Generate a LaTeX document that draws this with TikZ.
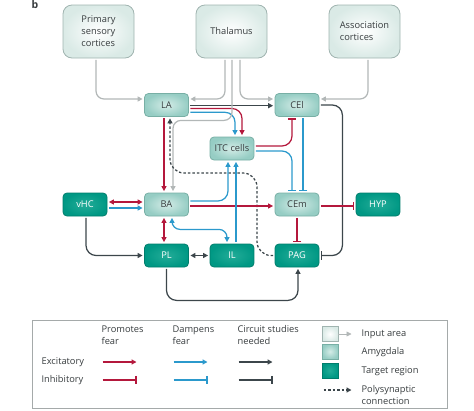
\documentclass[tikz,border=0pt]{standalone}
\usepackage{fontspec}
\setmainfont{Open Sans}
\usepackage{tikz}
\usetikzlibrary{arrows.meta}
\definecolor{fearred}{RGB}{180,24,60}
\definecolor{dampblue}{RGB}{43,153,204}
\definecolor{needgrey}{RGB}{60,70,75}
\definecolor{inputline}{RGB}{178,183,183}
\definecolor{inputfill}{RGB}{218,234,230}
\definecolor{inputdraw}{RGB}{160,180,176}
\definecolor{amyfill}{RGB}{150,205,196}
\definecolor{amylight}{RGB}{212,236,231}
\definecolor{amydraw}{RGB}{120,175,165}
\definecolor{targetfill}{RGB}{0,152,132}
\definecolor{targetlight}{RGB}{35,172,152}
\definecolor{targetdraw}{RGB}{0,125,108}
\definecolor{labeltext}{RGB}{55,60,62}
\definecolor{legendframe}{RGB}{165,170,170}
\tikzstyle{input}=[rectangle,rounded corners=9pt,draw=inputdraw,inner color=white,outer color=inputfill,minimum width=71pt,minimum height=53pt,align=left,line width=0.8pt]
\tikzstyle{amyg}=[rectangle,rounded corners=4pt,draw=amydraw,inner color=amylight,outer color=amyfill,minimum width=44pt,minimum height=23pt,line width=0.8pt]
\tikzstyle{target}=[rectangle,rounded corners=4pt,draw=targetdraw,inner color=targetlight,outer color=targetfill,minimum width=44pt,minimum height=23pt,text=white,line width=0.8pt]
\tikzstyle{keybox}=[rounded corners=0pt,minimum width=16pt,minimum height=15pt,inner sep=0pt]
\tikzstyle{link}=[shorten >=1.5pt,shorten <=1.5pt]
\tikzstyle{promote}=[link,draw=fearred]
\tikzstyle{dampen}=[link,draw=dampblue]
\tikzstyle{needed}=[link,draw=needgrey]
\tikzstyle{feed}=[link,draw=inputline,->]
\tikzstyle{poly}=[link,draw=needgrey,dash pattern=on 2.5pt off 2pt,->]
\tikzstyle{inhib}=[-{Bar[width=8.5pt]}]

\begin{document}
\begin{tikzpicture}[x=1pt,y=-1pt,line width=1.25pt,text=labeltext,
    >={Triangle[length=5pt,width=5pt]},
    font=\fontsize{9.3}{12}\selectfont]
      \useasboundingbox (0,0) rectangle (474,410);
      \node[font=\bfseries\fontsize{10.5}{12}\selectfont,inner sep=0pt] at (35,5) (panel) {b};
      \node[input] at (98.5,31.5) (prim) {Primary\\sensory\\cortices};
      \node[input] at (231.5,31.5) (thal) {Thalamus};
      \node[input] at (364.5,31.5) (assoc) {Association\\cortices};
      \node[amyg] at (166.5,105) (LA) {LA};
      \node[amyg] at (297,105) (CEl) {CEl};
      \node[amyg] at (232,148.5) (ITC) {ITC cells};
      \node[target] at (85,204.5) (vHC) {vHC};
      \node[amyg] at (166.5,204.5) (BA) {BA};
      \node[amyg] at (297,204.5) (CEm) {CEm};
      \node[target] at (378,204.5) (HYP) {HYP};
      \node[target] at (166.5,255.5) (PL) {PL};
      \node[target] at (232,255.5) (IL) {IL};
      \node[target] at (297,255.5) (PAG) {PAG};
      \draw[feed,rounded corners=8pt] ([xshift=-2.5pt]prim.south) |- ([yshift=6pt]LA.west);
      \draw[feed,rounded corners=8pt] ([xshift=-6.5pt]thal.south) |- ([yshift=6pt]LA.east);
      \draw[feed,rounded corners=8pt] ([xshift=8.5pt]thal.south) |- ([yshift=6pt]CEl.west);
      \draw[feed,rounded corners=8pt] ([xshift=3.5pt]assoc.south) |- ([yshift=6pt]CEl.east);
      \draw[needed,->] ([yshift=-0.7pt]LA.east) -- ([yshift=-0.7pt]CEl.west);
      \draw[promote,->,rounded corners=10pt] ([yshift=-3.5pt]LA.east) -| ([xshift=10pt]ITC.north);
      \draw[dampen,->,rounded corners=10pt] ([yshift=-7.3pt]LA.east) -| ([xshift=3pt]ITC.north);
      \draw[feed,rounded corners=8pt] ([xshift=0.5pt]thal.south) -- ++(0,62) -| ([xshift=6.5pt]BA.north);
      \draw[promote,inhib,rounded corners=10pt] ([yshift=2.5pt]ITC.east) -| ([xshift=-5pt]CEl.south);
      \draw[dampen,inhib,rounded corners=10pt] ([yshift=-2.5pt]ITC.east) -| ([xshift=-5pt]CEm.north);
      \draw[dampen,inhib] ([xshift=6pt]CEl.south) -- ([xshift=6pt]CEm.north);
      \draw[needed,inhib,rounded corners=10pt] (CEl.east) -- ++(23,0) |- (PAG.east);
      \draw[promote,->] ([xshift=-2.5pt]LA.south) -- ([xshift=-2.5pt]BA.north);
      \draw[poly,rounded corners=14pt] (PAG.west) -| (257,173) -| ([xshift=3.5pt]LA.south);
      \draw[promote,<->] ([yshift=2.5pt]vHC.east) -- ([yshift=2.5pt]BA.west);
      \draw[dampen,->] ([yshift=-3.5pt]vHC.east) -- ([yshift=-3.5pt]BA.west);
      \draw[promote,->] ([yshift=-1.5pt]BA.east) -- ([yshift=-1.5pt]CEm.west);
      \draw[dampen,->,rounded corners=10pt] ([yshift=3.5pt]BA.east) -| ([xshift=-4pt]ITC.south);
      \draw[dampen,->] ([xshift=4pt]IL.north) -- ([xshift=4pt]ITC.south);
      \draw[dampen,<->,rounded corners=8pt] ([xshift=5.5pt]BA.south) -- ++(0,13) -| ([xshift=-5pt]IL.north);
      \draw[promote,<->] ([xshift=-2.5pt]BA.south) -- ([xshift=-2.5pt]PL.north);
      \draw[promote,inhib] (CEm.south) -- (PAG.north);
      \draw[promote,inhib] ([yshift=-1.5pt]CEm.east) -- ([yshift=-1.5pt]HYP.west);
      \draw[needed,->,rounded corners=10pt] ([xshift=1pt]vHC.south) |- (PL.west);
      \draw[needed,<->] (PL.east) -- (IL.west);
      \draw[needed,->,rounded corners=10pt] (PL.south) -- ++(0,33) -| ([xshift=1pt]PAG.south);
      \draw[draw=legendframe,line width=0.8pt] (32,320) rectangle (447,408);
      \node[anchor=north west,align=left,inner sep=0pt] at (101,325) (hpro) {Promotes\\fear};
      \node[anchor=north west,align=left,inner sep=0pt] at (172,325) (hdamp) {Dampens\\fear};
      \node[anchor=north west,align=left,inner sep=0pt] at (237,325) (hneed) {Circuit studies\\needed};
      \node[anchor=west,inner sep=0pt] at (41,362) (exc) {Excitatory};
      \node[anchor=west,inner sep=0pt] at (41,380) (inh) {Inhibitory};
      \foreach \s/\x in {promote/101,dampen/172,needed/237}{
        \coordinate (\s ea) at (\x,362);
        \coordinate (\s eb) at (\x+37,362);
        \coordinate (\s ia) at (\x,380);
        \coordinate (\s ib) at (\x+37,380);
        \draw[\s,->] (\s ea) -- (\s eb);
        \draw[\s,inhib] (\s ia) -- (\s ib);
      }
      \node[input,keybox] at (330,334) (keyin) {};
      \node[amyg,keybox] at (330,351.5) (keyamy) {};
      \node[target,keybox] at (330,370.5) (keytarget) {};
      \coordinate (keyinend) at (353,334);
      \draw[feed,line width=0.8pt,shorten <=0pt] (keyin.east) -- (keyinend);
      \coordinate (polya) at (322,390);
      \coordinate (polyb) at (353,390);
      \draw[poly] (polya) -- (polyb);
      \node[anchor=west,inner sep=0pt] at (361,334) (tin) {Input area};
      \node[anchor=west,inner sep=0pt] at (361,352.5) (tamy) {Amygdala};
      \node[anchor=west,inner sep=0pt] at (361,371.5) (ttarget) {Target region};
      \node[anchor=west,align=left,inner sep=0pt] at (361,395) (tpoly) {Polysynaptic\\connection};
    \end{tikzpicture}
\end{document}
